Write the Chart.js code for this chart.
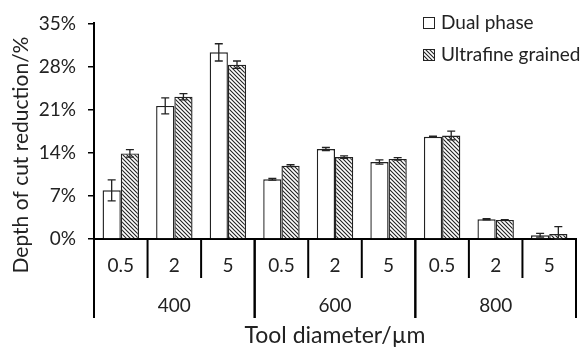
<!DOCTYPE html>
<html>
<head>
<meta charset="utf-8">
<script src="https://cdn.jsdelivr.net/npm/chart.js@4.4.1/dist/chart.umd.min.js"></script>
<style>
  html, body { margin: 0; padding: 0; background: #fff; }
  #wrap { width: 585px; height: 349px; }
</style>
</head>
<body>
<div id="wrap"><canvas id="myChart" width="585" height="349"></canvas></div>
<script>
// tool diameter (inner level) and cutting depth group (outer level)
const sizeLabels = ["0.5", "2", "5", "0.5", "2", "5", "0.5", "2", "5"];
const groupLabels = ["400", "600", "800"];

// depth of cut reduction, %
const dualPhase = [7.9, 21.6, 30.3, 9.7, 14.6, 12.5, 16.6, 3.2, 0.6];
const dualPhaseErr = [1.7, 1.3, 1.4, 0.15, 0.25, 0.35, 0.1, 0.1, 0.3];
const ultrafine = [13.9, 23.1, 28.3, 11.9, 13.3, 13.0, 16.8, 3.1, 0.8];
const ultrafineErr = [0.6, 0.5, 0.6, 0.15, 0.2, 0.2, 0.7, 0.05, 1.2];

const yTicks = [0, 7, 14, 21, 28, 35];

const fontFamily = "Lato, 'Open Sans', sans-serif";
const textColor = "#222";

// diagonal hatch for the ultrafine grained bars
const makeHatch = () => {
  const c = document.createElement("canvas");
  c.width = 4;
  c.height = 4;
  const g = c.getContext("2d");
  g.fillStyle = "#fff";
  g.fillRect(0, 0, 4, 4);
  g.strokeStyle = "#222";
  g.lineWidth = 1.1;
  g.beginPath();
  g.moveTo(-1, -1);
  g.lineTo(5, 5);
  g.moveTo(-1, 3);
  g.lineTo(1, 5);
  g.moveTo(3, -1);
  g.lineTo(5, 1);
  g.stroke();
  return g.createPattern(c, "repeat");
};
const hatch = makeHatch();

const errors = [dualPhaseErr, ultrafineErr];

// error bars on top of each bar
const errorBarPlugin = {
  id: "errorBars",
  afterDatasetsDraw(chart) {
    const ctx = chart.ctx;
    const yScale = chart.scales.y;
    ctx.save();
    ctx.strokeStyle = "#222";
    ctx.lineWidth = 1.3;
    chart.data.datasets.forEach((ds, di) => {
      const meta = chart.getDatasetMeta(di);
      meta.data.forEach((bar, i) => {
        const v = ds.data[i];
        const e = errors[di][i];
        const yTop = yScale.getPixelForValue(v + e);
        const yBot = yScale.getPixelForValue(Math.max(0, v - e));
        const cap = 4;
        ctx.beginPath();
        ctx.moveTo(bar.x, yTop);
        ctx.lineTo(bar.x, yBot);
        ctx.moveTo(bar.x - cap, yTop);
        ctx.lineTo(bar.x + cap, yTop);
        ctx.moveTo(bar.x - cap, yBot);
        ctx.lineTo(bar.x + cap, yBot);
        ctx.stroke();
      });
    });
    ctx.restore();
  },
};

// two level category axis, titles and legend
const labelsPlugin = {
  id: "multiLevel",
  afterDraw(chart) {
    const ctx = chart.ctx;
    const xScale = chart.scales.x;
    const area = chart.chartArea;
    const step = xScale.getPixelForValue(1) - xScale.getPixelForValue(0);
    const base = area.bottom;
    ctx.save();
    ctx.strokeStyle = "#000";
    ctx.lineWidth = 2;

    // inner separators + labels
    ctx.fillStyle = textColor;
    ctx.font = "19px " + fontFamily;
    ctx.textAlign = "center";
    ctx.textBaseline = "middle";
    sizeLabels.forEach((lab, i) => {
      const cx = xScale.getPixelForValue(i);
      ctx.fillText(lab, cx, base + 27);
      const edge = cx + step / 2;
      if ((i + 1) % 3 !== 0) {
        ctx.beginPath();
        ctx.moveTo(edge, base);
        ctx.lineTo(edge, base + 39);
        ctx.stroke();
      }
    });

    // outer separators + labels
    groupLabels.forEach((lab, g) => {
      const left = xScale.getPixelForValue(g * 3) - step / 2;
      const right = xScale.getPixelForValue(g * 3 + 2) + step / 2;
      ctx.fillText(lab, (left + right) / 2, base + 67);
      ctx.beginPath();
      ctx.moveTo(left, g === 0 ? area.top : base);
      ctx.lineTo(left, base + 79);
      ctx.moveTo(right, base);
      ctx.lineTo(right, base + 79);
      ctx.stroke();
    });

    // axis titles
    ctx.font = "23px " + fontFamily;
    ctx.fillText("Tool diameter/\u00b5m", (area.left + area.right) / 2, base + 97);
    ctx.save();
    ctx.font = "21px " + fontFamily;
    ctx.translate(21, 155);
    ctx.rotate(-Math.PI / 2);
    ctx.fillText("Depth of cut reduction/%", 0, 0);
    ctx.restore();

    // legend
    ctx.font = "19px " + fontFamily;
    ctx.textAlign = "left";
    const legendY = [23, 55];
    chart.data.datasets.forEach((ds, di) => {
      const y = legendY[di];
      ctx.fillStyle = ds.backgroundColor;
      ctx.fillRect(423, y - 6, 12, 12);
      ctx.lineWidth = 1;
      ctx.strokeStyle = "#222";
      ctx.strokeRect(423.5, y - 5.5, 11, 11);
      ctx.fillStyle = textColor;
      ctx.fillText(ds.label, 441, y);
    });
    ctx.restore();
  },
};

new Chart(document.getElementById("myChart"), {
  type: "bar",
  data: {
    labels: sizeLabels,
    datasets: [
      {
        label: "Dual phase",
        data: dualPhase,
        backgroundColor: "#ffffff",
        borderColor: "#222",
        borderWidth: 1.4,
        categoryPercentage: 0.68,
        barPercentage: 1,
      },
      {
        label: "Ultrafine grained",
        data: ultrafine,
        backgroundColor: hatch,
        borderColor: "#222",
        borderWidth: 1.4,
        categoryPercentage: 0.68,
        barPercentage: 1,
      },
    ],
  },
  options: {
    responsive: false,
    animation: false,
    layout: { padding: { top: 18, right: 9, bottom: 0, left: 0 } },
    plugins: {
      legend: { display: false },
      tooltip: { enabled: false },
    },
    scales: {
      x: {
        grid: { display: false },
        ticks: { display: false },
        border: { color: "#000", width: 2 },
        afterFit: (s) => {
          s.height = 110;
        },
      },
      y: {
        min: 0,
        max: 35,
        afterBuildTicks: (s) => {
          s.ticks = yTicks.map((v) => ({ value: v }));
        },
        ticks: {
          padding: 12,
          color: textColor,
          font: { family: fontFamily, size: 19 },
          callback: (v) => v + "%",
        },
        grid: {
          drawOnChartArea: false,
          drawTicks: true,
          tickLength: 6,
          color: "#000",
          lineWidth: 1.5,
        },
        border: { color: "#000", width: 2 },
        afterFit: (s) => {
          s.width = 94;
        },
      },
    },
  },
  plugins: [errorBarPlugin, labelsPlugin],
});
</script>
</body>
</html>
